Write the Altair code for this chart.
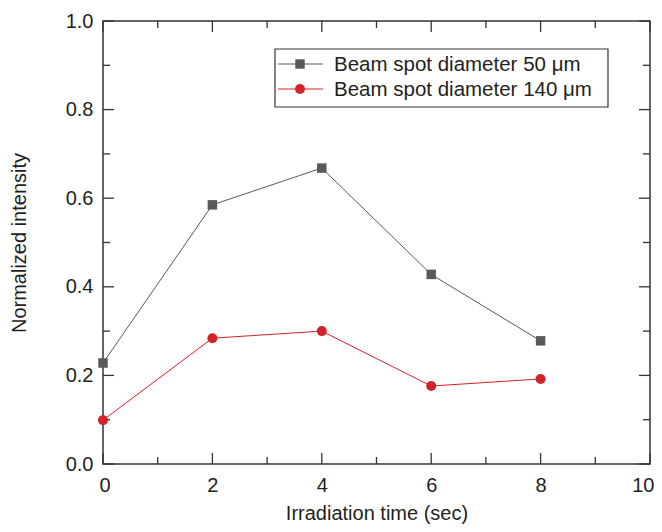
import altair as alt
import pandas as pd

time_s = [0, 2, 4, 6, 8]
spot50 = [0.228, 0.585, 0.668, 0.428, 0.278]
spot140 = [0.099, 0.284, 0.300, 0.176, 0.192]
series_names = ["Beam spot diameter 50 μm", "Beam spot diameter 140 μm"]
series_colors = ["#58595b", "#d2232a"]
x_major = [0, 2, 4, 6, 8, 10]
x_minor = [1, 3, 5, 7, 9]
y_major = [0.0, 0.2, 0.4, 0.6, 0.8, 1.0]
y_minor = [0.1, 0.3, 0.5, 0.7, 0.9]

W, H = 547, 443
FONT = "Liberation Sans"
TXT = "#231f20"

df50 = pd.DataFrame({"t": time_s, "v": spot50})
df140 = pd.DataFrame({"t": time_s, "v": spot140})

xs = alt.Scale(domain=[0, 10], nice=False, zero=False)
ys = alt.Scale(domain=[0, 1], nice=False, zero=False)

xaxis = alt.Axis(values=x_major, format="d", ticks=False, domain=False, grid=False,
                 labelFontSize=20, labelFont=FONT, labelColor=TXT, labelPadding=11,
                 labelFlush=True, labelFlushOffset=4,
                 title="Irradiation time (sec)", titleFontSize=20,
                 titleFont=FONT, titleFontWeight="normal", titleColor=TXT, titlePadding=8)
yaxis = alt.Axis(values=y_major, format=".1f", ticks=False, domain=False, grid=False,
                 labelFontSize=20, labelFont=FONT, labelColor=TXT, labelPadding=10,
                 labelFlush=False, title="Normalized intensity", titleFontSize=20,
                 titleFont=FONT, titleFontWeight="normal", titleColor=TXT, titlePadding=36)

def X():
    return alt.X("t:Q", scale=xs, axis=xaxis)

def Y():
    return alt.Y("v:Q", scale=ys, axis=yaxis)

TICK = "#333333"

def xticks(vals, length):
    d = pd.DataFrame({"t": vals})
    bottom = alt.Chart(d).mark_rule(color=TICK, strokeWidth=1.3).encode(
        x=X(), y=alt.value(H), y2=alt.value(H - length))
    top = alt.Chart(d).mark_rule(color=TICK, strokeWidth=1.3).encode(
        x=X(), y=alt.value(0), y2=alt.value(length))
    return [bottom, top]

def yticks(vals, length):
    d = pd.DataFrame({"v": vals})
    left = alt.Chart(d).mark_rule(color=TICK, strokeWidth=1.3).encode(
        y=Y(), x=alt.value(0), x2=alt.value(length))
    right = alt.Chart(d).mark_rule(color=TICK, strokeWidth=1.3).encode(
        y=Y(), x=alt.value(W), x2=alt.value(W - length))
    return [left, right]

def series(df, color, shape, size):
    line = alt.Chart(df).mark_line(color=color, strokeWidth=1).encode(x=X(), y=Y())
    pts = alt.Chart(df).mark_point(color=color, fill=color, filled=True, shape=shape,
                                   size=size, opacity=1).encode(x=X(), y=Y())
    return [line, pts]

# legend (drawn in pixel space of the plot area)
LX0, LX1, LY0, LY1 = 172, 505, 28, 86
row_y = [43, 68]
leg = []
one = pd.DataFrame({"a": [0]})
leg.append(alt.Chart(one).mark_rect(fill="white", stroke="#333333", strokeWidth=1.2).encode(
    x=alt.value(LX0), x2=alt.value(LX1), y=alt.value(LY0), y2=alt.value(LY1)))
shapes = ["square", "circle"]
sizes = [90, 100]
for i, name in enumerate(series_names):
    leg.append(alt.Chart(one).mark_rule(color=series_colors[i], strokeWidth=1).encode(
        x=alt.value(LX0 + 3), x2=alt.value(LX0 + 48), y=alt.value(row_y[i])))
    leg.append(alt.Chart(one).mark_point(color=series_colors[i], fill=series_colors[i], filled=True,
                                         shape=shapes[i], size=sizes[i], opacity=1).encode(
        x=alt.value(LX0 + 25), y=alt.value(row_y[i])))
    leg.append(alt.Chart(pd.DataFrame({"n": [name]})).mark_text(
        align="left", baseline="middle", fontSize=20.5, font=FONT, color=TXT).encode(
        x=alt.value(LX0 + 59), y=alt.value(row_y[i] + 1), text="n:N"))

layers = []
layers += xticks(x_major, 11) + xticks(x_minor, 7)
layers += yticks(y_major, 11) + yticks(y_minor, 7)
layers += series(df50, series_colors[0], "square", 90)
layers += series(df140, series_colors[1], "circle", 100)
layers += leg

chart = alt.layer(*layers).properties(
    width=W, height=H,
    background="white",
    autosize=alt.AutoSizeParams(type="none"),
    padding={"left": 95, "top": 13, "right": 4, "bottom": 60},
).configure_view(stroke="#333333", strokeWidth=1.5)

chart.save("out.html", embed_options={"renderer": "svg", "actions": False})
